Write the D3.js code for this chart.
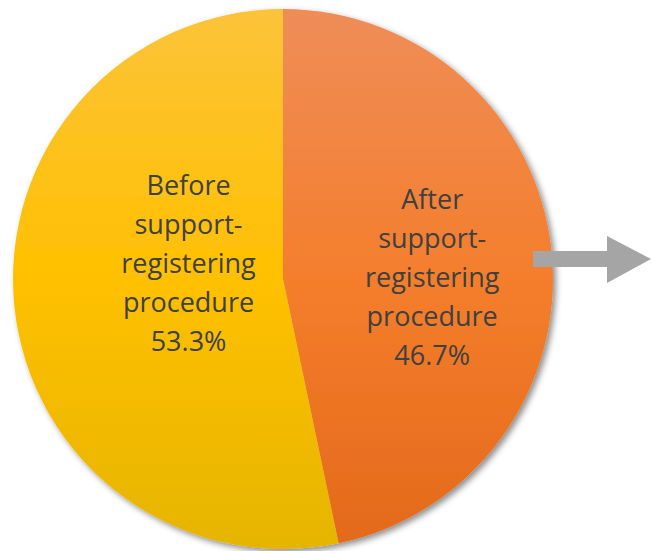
<!DOCTYPE html>
<html>
<head>
<meta charset="utf-8">
<script src="https://cdn.jsdelivr.net/npm/d3@7"></script>
<style>
  html, body { margin: 0; padding: 0; background: #fff; }
  svg { display: block; }
</style>
</head>
<body>
<svg></svg>
<script>
// slices, clockwise from 12 o'clock
var labels = ["After support-registering procedure", "Before support-registering procedure"];
var labelLines = [["After", "support-", "registering", "procedure"], ["Before", "support-", "registering", "procedure"]];
var shares = [46.7, 53.3];
var topColors = ["#ef8d58", "#fcc33a"];
var midColors = ["#f47e2c", "#ffc000"];
var bottomColors = ["#e3691a", "#e6b500"];

var width = 651;
var height = 551;
var cx = 283, cy = 279, radius = 270;

var svg = d3.select('svg')
    .attr('width', width)
    .attr('height', height);

var defs = svg.append('defs');

var shadow = defs.append('filter')
    .attr('id', 'shadow')
    .attr('x', '-10%').attr('y', '-10%')
    .attr('width', '120%').attr('height', '120%');
shadow.append('feDropShadow')
    .attr('dx', 3).attr('dy', 3)
    .attr('stdDeviation', 3)
    .attr('flood-color', '#000')
    .attr('flood-opacity', 0.45);

// gradients live in the chart group's coords (origin at pie centre)
shares.forEach(function(s, i){
  var g = defs.append('linearGradient')
      .attr('id', 'grad' + i)
      .attr('gradientUnits', 'userSpaceOnUse')
      .attr('x1', 0).attr('x2', 0)
      .attr('y1', -radius).attr('y2', radius);
  g.append('stop').attr('offset', '0%').attr('stop-color', topColors[i]);
  g.append('stop').attr('offset', '50%').attr('stop-color', midColors[i]);
  g.append('stop').attr('offset', '100%').attr('stop-color', bottomColors[i]);
});

// grey arrow to the right of the pie
var arrow = d3.path();
arrow.moveTo(533, 251);
arrow.lineTo(607, 251);
arrow.lineTo(607, 236);
arrow.lineTo(651, 259);
arrow.lineTo(607, 283);
arrow.lineTo(607, 267);
arrow.lineTo(533, 267);
arrow.closePath();

var pieData = d3.pie()
    .value(d => d)
    .sort(null)(shares);

var path = d3.arc()
    .outerRadius(radius)
    .innerRadius(0);

var chart = svg.append('g')
    .attr('transform', 'translate(' + cx + ',' + cy + ')');

chart.append('g')
    .attr('filter', 'url(#shadow)')
  .selectAll('path')
  .data(pieData)
  .enter()
  .append('path')
    .attr('d', path)
    .attr('fill', (d, i) => 'url(#grad' + i + ')');

svg.append('path')
    .attr('d', arrow.toString())
    .attr('fill', '#a5a5a5');

// label anchors: centroid on a label arc, plus a small vertical nudge
var labelRadius = [150, 95];
var labelNudge = [15, -25];
var lineGap = 39;

pieData.forEach(function(d, i){
  var la = d3.arc().innerRadius(labelRadius[i]).outerRadius(labelRadius[i]);
  var c = la.centroid(d);
  var lines = labelLines[i].concat([d3.format('.1f')(shares[i]) + '%']);
  var t = chart.append('text')
      .attr('text-anchor', 'middle')
      .attr('font-family', 'Open Sans, sans-serif')
      .attr('font-size', 27)
      .attr('fill', '#404040');
  lines.forEach(function(line, j){
    t.append('tspan')
      .attr('x', c[0])
      .attr('y', c[1] + labelNudge[i] + (j - 2) * lineGap + 9)
      .text(line);
  });
});
</script>
</body>
</html>
